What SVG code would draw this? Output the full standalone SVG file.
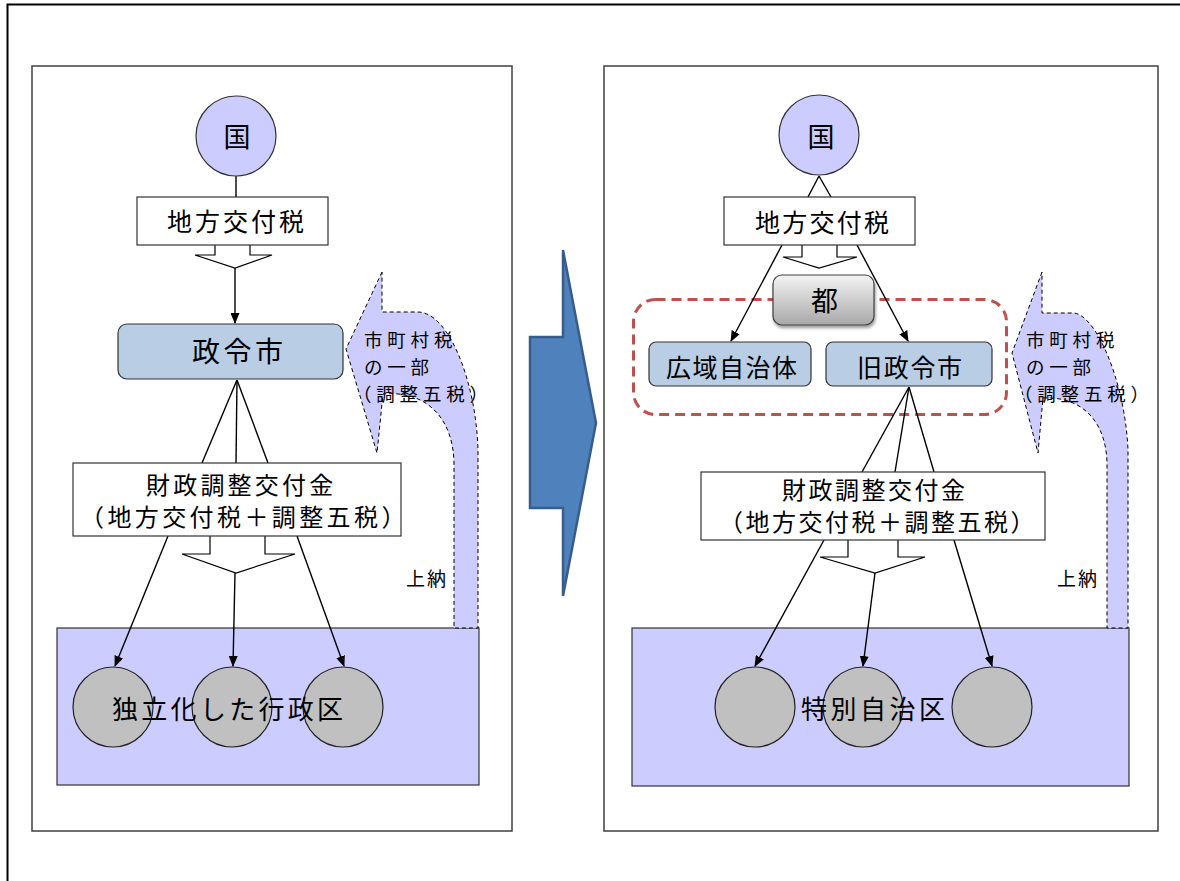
<svg xmlns="http://www.w3.org/2000/svg" width="1180" height="881" viewBox="0 0 1180 881">
<style>
text{font-family:"Noto Sans CJK JP","Noto Sans CJK SC",sans-serif;fill:#000}
.panel{fill:#fff;stroke:#404040;stroke-width:1.5}
.frame{fill:none;stroke:#000;stroke-width:2}
.kuni{fill:#ccccff;stroke:#333;stroke-width:1.2}
.box{fill:#fff;stroke:#333;stroke-width:1.2}
.blue{fill:#b9cde5;stroke:#333;stroke-width:1.2}
.area{fill:#ccccff;stroke:#333;stroke-width:1.2}
.ward{fill:#c0c0c0;stroke:#222;stroke-width:1.2}
.open{fill:#fff;stroke:#000;stroke-width:1.2}
.ln{stroke:#000;stroke-width:1.4;fill:none}
.arr{marker-end:url(#ah)}
.flow{fill:#ccccff;stroke:#000;stroke-width:1;stroke-dasharray:4,3}
.red{fill:none;stroke:#c0504d;stroke-width:3;stroke-dasharray:10,6}
.ft{font-size:18.5px;letter-spacing:4.8px}
</style>
<defs>
<marker id="ah" markerUnits="userSpaceOnUse" markerWidth="11" markerHeight="9" refX="10" refY="4.5" orient="auto">
<path d="M0,0 L11,4.5 L0,9 z" fill="#000"/>
</marker>
<linearGradient id="gray" x1="0" y1="0" x2="0" y2="1">
<stop offset="0" stop-color="#f4f4f4"/>
<stop offset="1" stop-color="#a8a8a8"/>
</linearGradient>
<filter id="sh" x="-20%" y="-20%" width="140%" height="150%">
<feDropShadow dx="1" dy="2.5" stdDeviation="1.5" flood-color="#000" flood-opacity="0.4"/>
</filter>
</defs>

<rect class="frame" x="7.5" y="4.5" width="1190" height="900"/>

<g id="panel-left">
<rect class="panel" x="32" y="66" width="480" height="765"/>
</g>
<g id="panel-right">
<rect class="panel" x="604" y="66" width="554" height="765"/>
</g>

<g id="transition-arrow">
<path d="M563,250 L596,423 L563,596 L563,508 L530,508 L530,337 L563,337 Z" fill="#4f81bd" stroke="#385d8a" stroke-width="2.5"/>
</g>

<g id="left-wards">
<rect class="area" x="57" y="628" width="422" height="157"/>
<circle class="ward" cx="113" cy="707" r="40"/>
<circle class="ward" cx="232" cy="707" r="40"/>
<circle class="ward" cx="343" cy="707" r="40"/>
<text x="112" y="719" font-size="26" letter-spacing="3.3">独立化した行政区</text>
</g>
<g id="right-wards">
<rect class="area" x="632" y="628" width="497" height="158"/>
<circle class="ward" cx="755" cy="707" r="40"/>
<circle class="ward" cx="863" cy="707" r="40"/>
<circle class="ward" cx="992" cy="707" r="40"/>
<text x="801" y="719" font-size="26" letter-spacing="3.5">特別自治区</text>
</g>

<g id="left-flow">
<path class="flow" d="M382,272 L346,349 L377,453 L383,394 C428,390 454,420 454,465 L454,628 L478,628 L478,450 C476,380 448,312 418,312 L382,312 Z"/>
<text class="ft" x="364" y="347">市町村税</text>
<text class="ft" x="364" y="374">の一部</text>
<text class="ft" x="353" y="401">（調整五税）</text>
<text x="406" y="586" font-size="19" letter-spacing="2">上納</text>
</g>
<g id="right-flow">
<path class="flow" d="M1042,272 L1012,353 L1038,453 L1043,398 C1085,396 1107,425 1107,465 L1107,628 L1128,628 L1128,450 C1125,380 1095,313 1073,313 L1042,313 Z"/>
<text class="ft" x="1026" y="347">市町村税</text>
<text class="ft" x="1026" y="374">の一部</text>
<text class="ft" x="1014" y="401">（調整五税）</text>
<text x="1057" y="586" font-size="19" letter-spacing="2">上納</text>
</g>

<g id="red-group">
<rect class="red" x="633.5" y="299.5" width="373" height="115" rx="22"/>
</g>

<g id="connectors">
<polygon class="open" points="215,240 215,255 195,255 235,268 272,255 250,255 250,240"/>
<polygon class="open" points="210,530 210,554 182,554 236,573 295,554 265,554 265,530"/>
<polygon class="open" points="802,240 802,257 783,257 819,268 857,257 837,257 837,240"/>
<polygon class="open" points="848,535 848,557 820,557 875,573 925,557 898,557 898,535"/>
<line class="ln" x1="236" y1="176" x2="236" y2="197"/>
<line class="ln arr" x1="235" y1="268" x2="235" y2="323"/>
<line class="ln" x1="237" y1="380" x2="202" y2="463"/>
<line class="ln" x1="237" y1="380" x2="236" y2="463"/>
<line class="ln" x1="237" y1="380" x2="268" y2="463"/>
<line class="ln arr" x1="168" y1="536" x2="115" y2="666"/>
<line class="ln arr" x1="235" y1="573" x2="233" y2="666"/>
<line class="ln arr" x1="297" y1="536" x2="344" y2="666"/>
<line class="ln" x1="819" y1="176" x2="808" y2="197"/>
<line class="ln" x1="819" y1="176" x2="831" y2="197"/>
<line class="ln arr" x1="782" y1="245" x2="731" y2="341"/>
<line class="ln arr" x1="857" y1="245" x2="908" y2="341"/>
<line class="ln" x1="909" y1="387" x2="862" y2="472"/>
<line class="ln" x1="909" y1="387" x2="895" y2="472"/>
<line class="ln" x1="909" y1="387" x2="934" y2="472"/>
<line class="ln arr" x1="824" y1="540" x2="755" y2="666"/>
<line class="ln arr" x1="875" y1="573" x2="863" y2="666"/>
<line class="ln arr" x1="954" y1="540" x2="992" y2="666"/>
</g>

<g id="left-kuni">
<circle class="kuni" cx="236" cy="136" r="40"/>
<text x="237" y="147" font-size="27" text-anchor="middle">国</text>
</g>
<g id="left-koufuzei">
<rect class="box" x="137" y="197" width="191" height="48"/>
<text x="167" y="231" font-size="25" letter-spacing="3">地方交付税</text>
</g>
<g id="left-seireishi">
<rect class="blue" x="118" y="324" width="225" height="55" rx="9"/>
<text x="192" y="362" font-size="28" letter-spacing="3.5">政令市</text>
</g>
<g id="left-zaisei">
<rect class="box" x="73" y="463" width="328" height="73"/>
<text x="146" y="494" font-size="24" letter-spacing="3.2">財政調整交付金</text>
<text x="80" y="526" font-size="24" letter-spacing="3.4">（地方交付税＋調整五税）</text>
</g>

<g id="right-kuni">
<circle class="kuni" cx="819" cy="135" r="40"/>
<text x="821" y="147" font-size="27" text-anchor="middle">国</text>
</g>
<g id="right-koufuzei">
<rect class="box" x="724" y="197" width="191" height="48"/>
<text x="755" y="232" font-size="25" letter-spacing="2.25">地方交付税</text>
</g>
<g id="right-to">
<rect x="773" y="275" width="101" height="50" rx="9" fill="url(#gray)" stroke="#404040" stroke-width="1.2" filter="url(#sh)"/>
<text x="824.5" y="311" font-size="27" text-anchor="middle">都</text>
</g>
<g id="right-kouiki">
<rect class="blue" x="649" y="342" width="162" height="44" rx="7"/>
<text x="666" y="377" font-size="25" letter-spacing="1.5">広域自治体</text>
</g>
<g id="right-kyuseirei">
<rect class="blue" x="826" y="342" width="166" height="44" rx="7"/>
<text x="857" y="377" font-size="25" letter-spacing="1.7">旧政令市</text>
</g>
<g id="right-zaisei">
<rect class="box" x="701" y="472" width="344" height="68"/>
<text x="782" y="499" font-size="24" letter-spacing="2.5">財政調整交付金</text>
<text x="719" y="531" font-size="24" letter-spacing="2.5">（地方交付税＋調整五税）</text>
</g>
</svg>
